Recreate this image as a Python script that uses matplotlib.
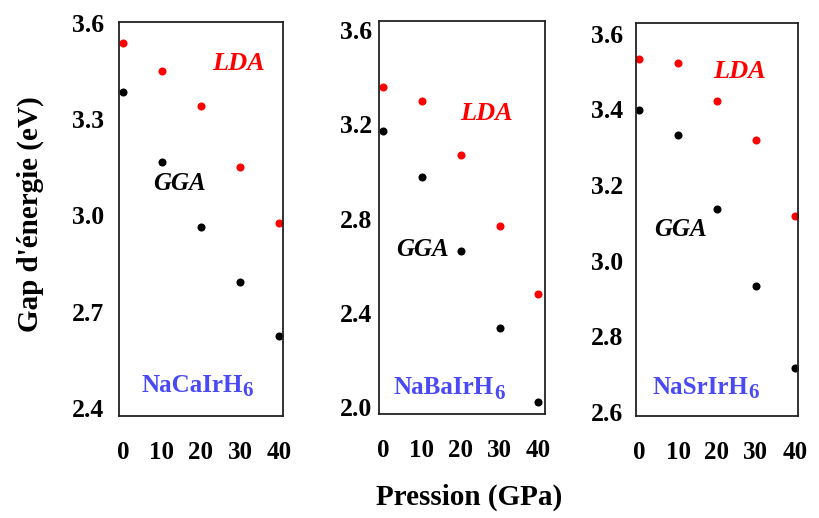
import matplotlib
matplotlib.use("Agg")
import matplotlib.pyplot as plt

plt.rcParams['font.family'] = ['Liberation Serif', 'DejaVu Serif']

pressure = [0, 10, 20, 30, 40]

compound_base = ["NaCaIrH", "NaBaIrH", "NaSrIrH"]
compound_sub = ["6", "6", "6"]

lda_naca = [3.537, 3.449, 3.340, 3.152, 2.975]
gga_naca = [3.385, 3.167, 2.963, 2.793, 2.624]

lda_naba = [3.360, 3.300, 3.069, 2.770, 2.478]
gga_naba = [3.172, 2.977, 2.662, 2.335, 2.019]

lda_nasr = [3.532, 3.523, 3.421, 3.319, 3.118]
gga_nasr = [3.398, 3.331, 3.136, 2.932, 2.717]

yticks_naca = [2.4, 2.7, 3.0, 3.3, 3.6]
yticks_naba = [2.0, 2.4, 2.8, 3.2, 3.6]
yticks_nasr = [2.6, 2.8, 3.0, 3.2, 3.4, 3.6]
xticks = [0, 10, 20, 30, 40]

W, H = 820, 518
fig = plt.figure(figsize=(W / 100, H / 100), dpi=100)


def frac_box(l, r, t, b):
    return [l / W, 1 - b / H, (r - l) / W, (b - t) / H]


panels = [
    dict(box=(119, 283, 22, 416), xlim=(-1.0, 41.0), ylim=(2.375, 3.603),
         lda=lda_naca, gga=gga_naca, yt=yticks_naca, ypad=11,
         lda_xy=(239, 63), gga_xy=(179, 183), name_xy=(192, 385), idx=0),
    dict(box=(379, 545, 21, 414), xlim=(-1.0, 41.7), ylim=(1.969, 3.64),
         lda=lda_naba, gga=gga_naba, yt=yticks_naba, ypad=5,
         lda_xy=(487, 113), gga_xy=(422, 250), name_xy=(444, 388), idx=1),
    dict(box=(636, 798, 23, 416), xlim=(-0.85, 40.85), ylim=(2.589, 3.628),
         lda=lda_nasr, gga=gga_nasr, yt=yticks_nasr, ypad=9,
         lda_xy=(740, 72), gga_xy=(680, 230), name_xy=(700, 387), idx=2),
]

for p in panels:
    ax = fig.add_axes(frac_box(*p['box']))
    ax.plot(pressure, p['lda'], 'o', color='red', markersize=5.8, markeredgewidth=0)
    ax.plot(pressure, p['gga'], 'o', color='black', markersize=5.8, markeredgewidth=0)
    ax.set_xlim(*p['xlim'])
    ax.set_ylim(*p['ylim'])
    ax.set_xticks(xticks)
    ax.set_xticklabels([str(v) for v in xticks])
    ax.set_yticks(p['yt'])
    ax.set_yticklabels(["{:.1f}".format(v) for v in p['yt']])
    ax.tick_params(axis='both', length=0)
    ax.tick_params(axis='x', pad=18, labelsize=18)
    ax.tick_params(axis='y', pad=p['ypad'], labelsize=18.5)
    for lab in ax.get_xticklabels() + ax.get_yticklabels():
        lab.set_fontweight('bold')
    for s in ax.spines.values():
        s.set_linewidth(1.3)
        s.set_color('#222222')
    fig.text(p['lda_xy'][0] / W, 1 - p['lda_xy'][1] / H, "LDA", color='red',
             fontsize=19, fontweight='bold', fontstyle='italic', ha='center', va='center')
    fig.text(p['gga_xy'][0] / W, 1 - p['gga_xy'][1] / H, "GGA", color='black',
             fontsize=18, fontweight='bold', fontstyle='italic', ha='center', va='center')
    i = p['idx']
    t = fig.text(p['name_xy'][0] / W, 1 - p['name_xy'][1] / H, compound_base[i],
                 color='#4a4af5', fontsize=18, fontweight='bold', ha='center', va='center')
    fig.canvas.draw()
    ax.annotate(compound_sub[i], xy=(1.0, 0.0), xycoords=t, xytext=(0, -3),
                textcoords='offset points', ha='left', va='bottom',
                color='#4a4af5', fontsize=15, fontweight='bold')

fig.text(30 / W, 1 - 214 / H, "Gap d'énergie (eV)", rotation=90, fontsize=21,
         fontweight='bold', ha='center', va='center')
fig.text(469 / W, 1 - 497 / H, "Pression (GPa)", fontsize=21,
         fontweight='bold', ha='center', va='center')

fig.savefig("out.png", dpi=100)
